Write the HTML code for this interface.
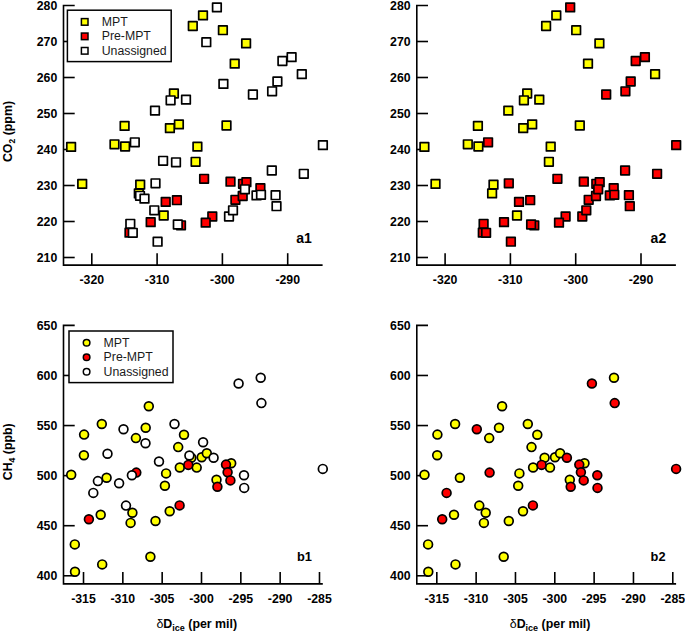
<!DOCTYPE html>
<html><head><meta charset="utf-8"><style>
html,body{margin:0;padding:0;background:#fff;}
svg{display:block;}
text{font-family:"Liberation Sans",sans-serif;}
</style></head><body>
<svg width="685" height="633" viewBox="0 0 685 633">
<rect width="685" height="633" fill="#fff"/>
<g stroke="#000" stroke-width="1.6" fill="none">
<path d="M63.5 5.5H74.7M63.5 4.7V265.9M62.7 265.1H322.6"/>
<path d="M63.5 257.50H74.7"/>
<path d="M63.5 221.50H74.7"/>
<path d="M63.5 185.50H74.7"/>
<path d="M63.5 149.50H74.7"/>
<path d="M63.5 113.50H74.7"/>
<path d="M63.5 77.50H74.7"/>
<path d="M63.5 41.50H74.7"/>
<path d="M91.80 265.1V253.2"/>
<path d="M157.10 265.1V253.2"/>
<path d="M222.40 265.1V253.2"/>
<path d="M287.70 265.1V253.2"/>
<path d="M416.8 5.5H428.0M416.8 4.7V265.9M416.0 265.1H675.9000000000001"/>
<path d="M416.8 257.50H428.0"/>
<path d="M416.8 221.50H428.0"/>
<path d="M416.8 185.50H428.0"/>
<path d="M416.8 149.50H428.0"/>
<path d="M416.8 113.50H428.0"/>
<path d="M416.8 77.50H428.0"/>
<path d="M416.8 41.50H428.0"/>
<path d="M445.10 265.1V253.2"/>
<path d="M510.40 265.1V253.2"/>
<path d="M575.70 265.1V253.2"/>
<path d="M641.00 265.1V253.2"/>
<path d="M63.5 325.40H74.7M63.5 324.60V584.7M62.7 583.9H322.8"/>
<path d="M63.5 575.77H74.7"/>
<path d="M63.5 525.70H74.7"/>
<path d="M63.5 475.62H74.7"/>
<path d="M63.5 425.55H74.7"/>
<path d="M63.5 375.47H74.7"/>
<path d="M83.51 583.9V572.0"/>
<path d="M122.84 583.9V572.0"/>
<path d="M162.17 583.9V572.0"/>
<path d="M201.50 583.9V572.0"/>
<path d="M240.83 583.9V572.0"/>
<path d="M280.16 583.9V572.0"/>
<path d="M319.49 583.9V572.0"/>
<path d="M416.8 325.40H428.0M416.8 324.60V584.7M416.0 583.9H676.1"/>
<path d="M416.8 575.77H428.0"/>
<path d="M416.8 525.70H428.0"/>
<path d="M416.8 475.62H428.0"/>
<path d="M416.8 425.55H428.0"/>
<path d="M416.8 375.47H428.0"/>
<path d="M436.81 583.9V572.0"/>
<path d="M476.14 583.9V572.0"/>
<path d="M515.47 583.9V572.0"/>
<path d="M554.80 583.9V572.0"/>
<path d="M594.13 583.9V572.0"/>
<path d="M633.46 583.9V572.0"/>
<path d="M672.79 583.9V572.0"/>
</g>
<g font-weight="bold" font-size="12.3" fill="#000">
<text x="57.3" y="261.80" text-anchor="end">210</text>
<text x="57.3" y="225.80" text-anchor="end">220</text>
<text x="57.3" y="189.80" text-anchor="end">230</text>
<text x="57.3" y="153.80" text-anchor="end">240</text>
<text x="57.3" y="117.80" text-anchor="end">250</text>
<text x="57.3" y="81.80" text-anchor="end">260</text>
<text x="57.3" y="45.80" text-anchor="end">270</text>
<text x="57.3" y="9.80" text-anchor="end">280</text>
<text x="91.80" y="284.2" text-anchor="middle">-320</text>
<text x="157.10" y="284.2" text-anchor="middle">-310</text>
<text x="222.40" y="284.2" text-anchor="middle">-300</text>
<text x="287.70" y="284.2" text-anchor="middle">-290</text>
<text x="410.6" y="261.80" text-anchor="end">210</text>
<text x="410.6" y="225.80" text-anchor="end">220</text>
<text x="410.6" y="189.80" text-anchor="end">230</text>
<text x="410.6" y="153.80" text-anchor="end">240</text>
<text x="410.6" y="117.80" text-anchor="end">250</text>
<text x="410.6" y="81.80" text-anchor="end">260</text>
<text x="410.6" y="45.80" text-anchor="end">270</text>
<text x="410.6" y="9.80" text-anchor="end">280</text>
<text x="445.10" y="284.2" text-anchor="middle">-320</text>
<text x="510.40" y="284.2" text-anchor="middle">-310</text>
<text x="575.70" y="284.2" text-anchor="middle">-300</text>
<text x="641.00" y="284.2" text-anchor="middle">-290</text>
<text x="57.3" y="580.07" text-anchor="end">400</text>
<text x="57.3" y="530.00" text-anchor="end">450</text>
<text x="57.3" y="479.93" text-anchor="end">500</text>
<text x="57.3" y="429.85" text-anchor="end">550</text>
<text x="57.3" y="379.77" text-anchor="end">600</text>
<text x="57.3" y="329.70" text-anchor="end">650</text>
<text x="83.51" y="602.8" text-anchor="middle">-315</text>
<text x="122.84" y="602.8" text-anchor="middle">-310</text>
<text x="162.17" y="602.8" text-anchor="middle">-305</text>
<text x="201.50" y="602.8" text-anchor="middle">-300</text>
<text x="240.83" y="602.8" text-anchor="middle">-295</text>
<text x="280.16" y="602.8" text-anchor="middle">-290</text>
<text x="319.49" y="602.8" text-anchor="middle">-285</text>
<text x="410.6" y="580.07" text-anchor="end">400</text>
<text x="410.6" y="530.00" text-anchor="end">450</text>
<text x="410.6" y="479.93" text-anchor="end">500</text>
<text x="410.6" y="429.85" text-anchor="end">550</text>
<text x="410.6" y="379.77" text-anchor="end">600</text>
<text x="410.6" y="329.70" text-anchor="end">650</text>
<text x="436.81" y="602.8" text-anchor="middle">-315</text>
<text x="476.14" y="602.8" text-anchor="middle">-310</text>
<text x="515.47" y="602.8" text-anchor="middle">-305</text>
<text x="554.80" y="602.8" text-anchor="middle">-300</text>
<text x="594.13" y="602.8" text-anchor="middle">-295</text>
<text x="633.46" y="602.8" text-anchor="middle">-290</text>
<text x="672.79" y="602.8" text-anchor="middle">-285</text>
</g>
<g font-weight="bold" font-size="14" fill="#000">
<text x="296.2" y="242.5">a1</text>
<text x="650.6" y="242.5">a2</text>
<text x="297.0" y="561.4" font-size="12.8">b1</text>
<text x="650.6" y="561.4" font-size="12.8">b2</text>
</g>
<g font-weight="bold" font-size="12" fill="#000">
<text transform="translate(11.8,131.5) rotate(-90)" text-anchor="middle" font-size="12.4">CO<tspan font-size="8.5" dy="3">2</tspan><tspan dy="-3"> (ppm)</tspan></text>
<text transform="translate(11.8,451.8) rotate(-90)" text-anchor="middle" font-size="12.4">CH<tspan font-size="8.5" dy="3">4</tspan><tspan dy="-3"> (ppb)</tspan></text>
<text x="196.8" y="628.2" text-anchor="middle" font-size="12.4"><tspan font-weight="normal">δ</tspan>D<tspan font-size="9" dy="3">ice</tspan><tspan dy="-3"> (per mil)</tspan></text>
<text x="550.1" y="628.2" text-anchor="middle" font-size="12.4"><tspan font-weight="normal">δ</tspan>D<tspan font-size="9" dy="3">ice</tspan><tspan dy="-3"> (per mil)</tspan></text>
</g>
<g stroke="#000" stroke-width="1.7" stroke-linejoin="round">
<rect x="66.80" y="142.60" width="8.6" height="8.6" fill="#ffff00"/>
<rect x="77.90" y="179.60" width="8.6" height="8.6" fill="#ffff00"/>
<rect x="110.20" y="140.00" width="8.6" height="8.6" fill="#ffff00"/>
<rect x="120.80" y="142.20" width="8.6" height="8.6" fill="#ffff00"/>
<rect x="120.30" y="121.60" width="8.6" height="8.6" fill="#ffff00"/>
<rect x="135.90" y="180.30" width="8.6" height="8.6" fill="#ffff00"/>
<rect x="134.50" y="189.10" width="8.6" height="8.6" fill="#ffff00"/>
<rect x="159.40" y="211.20" width="8.6" height="8.6" fill="#ffff00"/>
<rect x="169.60" y="89.20" width="8.6" height="8.6" fill="#ffff00"/>
<rect x="174.60" y="120.10" width="8.6" height="8.6" fill="#ffff00"/>
<rect x="165.60" y="123.80" width="8.6" height="8.6" fill="#ffff00"/>
<rect x="193.10" y="142.30" width="8.6" height="8.6" fill="#ffff00"/>
<rect x="191.30" y="157.50" width="8.6" height="8.6" fill="#ffff00"/>
<rect x="222.20" y="121.20" width="8.6" height="8.6" fill="#ffff00"/>
<rect x="198.70" y="11.10" width="8.6" height="8.6" fill="#ffff00"/>
<rect x="188.50" y="21.70" width="8.6" height="8.6" fill="#ffff00"/>
<rect x="218.60" y="25.90" width="8.6" height="8.6" fill="#ffff00"/>
<rect x="241.80" y="39.10" width="8.6" height="8.6" fill="#ffff00"/>
<rect x="230.40" y="59.30" width="8.6" height="8.6" fill="#ffff00"/>
<rect x="125.20" y="228.30" width="8.6" height="8.6" fill="#ff0000"/>
<rect x="146.40" y="217.80" width="8.6" height="8.6" fill="#ff0000"/>
<rect x="161.40" y="197.60" width="8.6" height="8.6" fill="#ff0000"/>
<rect x="172.60" y="195.90" width="8.6" height="8.6" fill="#ff0000"/>
<rect x="176.70" y="221.00" width="8.6" height="8.6" fill="#ff0000"/>
<rect x="199.80" y="174.50" width="8.6" height="8.6" fill="#ff0000"/>
<rect x="226.20" y="177.40" width="8.6" height="8.6" fill="#ff0000"/>
<rect x="231.10" y="195.50" width="8.6" height="8.6" fill="#ff0000"/>
<rect x="208.00" y="212.20" width="8.6" height="8.6" fill="#ff0000"/>
<rect x="201.40" y="218.30" width="8.6" height="8.6" fill="#ff0000"/>
<rect x="238.70" y="179.50" width="8.6" height="8.6" fill="#ff0000"/>
<rect x="242.10" y="177.80" width="8.6" height="8.6" fill="#ff0000"/>
<rect x="238.40" y="191.70" width="8.6" height="8.6" fill="#ff0000"/>
<rect x="256.10" y="183.90" width="8.6" height="8.6" fill="#ff0000"/>
<rect x="212.60" y="3.10" width="8.6" height="8.6" fill="#ffffff"/>
<rect x="202.00" y="37.90" width="8.6" height="8.6" fill="#ffffff"/>
<rect x="219.10" y="79.60" width="8.6" height="8.6" fill="#ffffff"/>
<rect x="287.30" y="52.80" width="8.6" height="8.6" fill="#ffffff"/>
<rect x="278.10" y="56.70" width="8.6" height="8.6" fill="#ffffff"/>
<rect x="297.50" y="69.80" width="8.6" height="8.6" fill="#ffffff"/>
<rect x="273.10" y="77.20" width="8.6" height="8.6" fill="#ffffff"/>
<rect x="267.80" y="87.00" width="8.6" height="8.6" fill="#ffffff"/>
<rect x="248.60" y="90.20" width="8.6" height="8.6" fill="#ffffff"/>
<rect x="166.30" y="96.00" width="8.6" height="8.6" fill="#ffffff"/>
<rect x="181.70" y="95.30" width="8.6" height="8.6" fill="#ffffff"/>
<rect x="150.70" y="106.30" width="8.6" height="8.6" fill="#ffffff"/>
<rect x="130.50" y="138.00" width="8.6" height="8.6" fill="#ffffff"/>
<rect x="158.80" y="156.50" width="8.6" height="8.6" fill="#ffffff"/>
<rect x="171.70" y="158.00" width="8.6" height="8.6" fill="#ffffff"/>
<rect x="151.20" y="179.00" width="8.6" height="8.6" fill="#ffffff"/>
<rect x="135.70" y="191.50" width="8.6" height="8.6" fill="#ffffff"/>
<rect x="140.20" y="194.30" width="8.6" height="8.6" fill="#ffffff"/>
<rect x="150.00" y="206.00" width="8.6" height="8.6" fill="#ffffff"/>
<rect x="126.00" y="219.50" width="8.6" height="8.6" fill="#ffffff"/>
<rect x="128.50" y="228.50" width="8.6" height="8.6" fill="#ffffff"/>
<rect x="153.30" y="237.40" width="8.6" height="8.6" fill="#ffffff"/>
<rect x="173.50" y="220.20" width="8.6" height="8.6" fill="#ffffff"/>
<rect x="224.70" y="212.20" width="8.6" height="8.6" fill="#ffffff"/>
<rect x="228.70" y="206.00" width="8.6" height="8.6" fill="#ffffff"/>
<rect x="240.60" y="185.00" width="8.6" height="8.6" fill="#ffffff"/>
<rect x="252.20" y="191.10" width="8.6" height="8.6" fill="#ffffff"/>
<rect x="256.70" y="190.50" width="8.6" height="8.6" fill="#ffffff"/>
<rect x="271.30" y="190.90" width="8.6" height="8.6" fill="#ffffff"/>
<rect x="272.20" y="201.90" width="8.6" height="8.6" fill="#ffffff"/>
<rect x="267.50" y="166.20" width="8.6" height="8.6" fill="#ffffff"/>
<rect x="299.50" y="169.50" width="8.6" height="8.6" fill="#ffffff"/>
<rect x="318.60" y="140.80" width="8.6" height="8.6" fill="#ffffff"/>
<rect x="420.10" y="142.60" width="8.6" height="8.6" fill="#ffff00"/>
<rect x="431.20" y="179.60" width="8.6" height="8.6" fill="#ffff00"/>
<rect x="463.50" y="140.00" width="8.6" height="8.6" fill="#ffff00"/>
<rect x="474.10" y="142.20" width="8.6" height="8.6" fill="#ffff00"/>
<rect x="473.60" y="121.60" width="8.6" height="8.6" fill="#ffff00"/>
<rect x="489.20" y="180.30" width="8.6" height="8.6" fill="#ffff00"/>
<rect x="487.80" y="189.10" width="8.6" height="8.6" fill="#ffff00"/>
<rect x="512.70" y="211.20" width="8.6" height="8.6" fill="#ffff00"/>
<rect x="522.90" y="89.20" width="8.6" height="8.6" fill="#ffff00"/>
<rect x="527.90" y="120.10" width="8.6" height="8.6" fill="#ffff00"/>
<rect x="518.90" y="123.80" width="8.6" height="8.6" fill="#ffff00"/>
<rect x="546.40" y="142.30" width="8.6" height="8.6" fill="#ffff00"/>
<rect x="544.60" y="157.50" width="8.6" height="8.6" fill="#ffff00"/>
<rect x="575.50" y="121.20" width="8.6" height="8.6" fill="#ffff00"/>
<rect x="552.00" y="11.10" width="8.6" height="8.6" fill="#ffff00"/>
<rect x="541.80" y="21.70" width="8.6" height="8.6" fill="#ffff00"/>
<rect x="571.90" y="25.90" width="8.6" height="8.6" fill="#ffff00"/>
<rect x="595.10" y="39.10" width="8.6" height="8.6" fill="#ffff00"/>
<rect x="583.70" y="59.30" width="8.6" height="8.6" fill="#ffff00"/>
<rect x="650.80" y="69.80" width="8.6" height="8.6" fill="#ffff00"/>
<rect x="519.60" y="96.00" width="8.6" height="8.6" fill="#ffff00"/>
<rect x="535.00" y="95.30" width="8.6" height="8.6" fill="#ffff00"/>
<rect x="504.00" y="106.30" width="8.6" height="8.6" fill="#ffff00"/>
<rect x="478.50" y="228.30" width="8.6" height="8.6" fill="#ff0000"/>
<rect x="499.70" y="217.80" width="8.6" height="8.6" fill="#ff0000"/>
<rect x="514.70" y="197.60" width="8.6" height="8.6" fill="#ff0000"/>
<rect x="525.90" y="195.90" width="8.6" height="8.6" fill="#ff0000"/>
<rect x="530.00" y="221.00" width="8.6" height="8.6" fill="#ff0000"/>
<rect x="553.10" y="174.50" width="8.6" height="8.6" fill="#ff0000"/>
<rect x="579.50" y="177.40" width="8.6" height="8.6" fill="#ff0000"/>
<rect x="584.40" y="195.50" width="8.6" height="8.6" fill="#ff0000"/>
<rect x="561.30" y="212.20" width="8.6" height="8.6" fill="#ff0000"/>
<rect x="554.70" y="218.30" width="8.6" height="8.6" fill="#ff0000"/>
<rect x="592.00" y="179.50" width="8.6" height="8.6" fill="#ff0000"/>
<rect x="595.40" y="177.80" width="8.6" height="8.6" fill="#ff0000"/>
<rect x="591.70" y="191.70" width="8.6" height="8.6" fill="#ff0000"/>
<rect x="609.40" y="183.90" width="8.6" height="8.6" fill="#ff0000"/>
<rect x="565.90" y="3.10" width="8.6" height="8.6" fill="#ff0000"/>
<rect x="640.60" y="52.80" width="8.6" height="8.6" fill="#ff0000"/>
<rect x="631.40" y="56.70" width="8.6" height="8.6" fill="#ff0000"/>
<rect x="626.40" y="77.20" width="8.6" height="8.6" fill="#ff0000"/>
<rect x="621.10" y="87.00" width="8.6" height="8.6" fill="#ff0000"/>
<rect x="601.90" y="90.20" width="8.6" height="8.6" fill="#ff0000"/>
<rect x="483.80" y="138.00" width="8.6" height="8.6" fill="#ff0000"/>
<rect x="504.50" y="179.00" width="8.6" height="8.6" fill="#ff0000"/>
<rect x="479.30" y="219.50" width="8.6" height="8.6" fill="#ff0000"/>
<rect x="481.80" y="228.50" width="8.6" height="8.6" fill="#ff0000"/>
<rect x="506.60" y="237.40" width="8.6" height="8.6" fill="#ff0000"/>
<rect x="526.80" y="220.20" width="8.6" height="8.6" fill="#ff0000"/>
<rect x="578.00" y="212.20" width="8.6" height="8.6" fill="#ff0000"/>
<rect x="582.00" y="206.00" width="8.6" height="8.6" fill="#ff0000"/>
<rect x="593.90" y="185.00" width="8.6" height="8.6" fill="#ff0000"/>
<rect x="605.50" y="191.10" width="8.6" height="8.6" fill="#ff0000"/>
<rect x="610.00" y="190.50" width="8.6" height="8.6" fill="#ff0000"/>
<rect x="624.60" y="190.90" width="8.6" height="8.6" fill="#ff0000"/>
<rect x="625.50" y="201.90" width="8.6" height="8.6" fill="#ff0000"/>
<rect x="620.80" y="166.20" width="8.6" height="8.6" fill="#ff0000"/>
<rect x="652.80" y="169.50" width="8.6" height="8.6" fill="#ff0000"/>
<rect x="671.90" y="140.80" width="8.6" height="8.6" fill="#ff0000"/>
<circle cx="101.80" cy="424.00" r="4.4" fill="#ffff00"/>
<circle cx="84.10" cy="434.60" r="4.4" fill="#ffff00"/>
<circle cx="135.90" cy="438.10" r="4.4" fill="#ffff00"/>
<circle cx="145.70" cy="427.80" r="4.4" fill="#ffff00"/>
<circle cx="83.90" cy="455.30" r="4.4" fill="#ffff00"/>
<circle cx="71.20" cy="474.70" r="4.4" fill="#ffff00"/>
<circle cx="106.60" cy="477.70" r="4.4" fill="#ffff00"/>
<circle cx="132.40" cy="512.80" r="4.4" fill="#ffff00"/>
<circle cx="130.60" cy="522.90" r="4.4" fill="#ffff00"/>
<circle cx="100.70" cy="514.70" r="4.4" fill="#ffff00"/>
<circle cx="74.80" cy="544.40" r="4.4" fill="#ffff00"/>
<circle cx="102.20" cy="564.40" r="4.4" fill="#ffff00"/>
<circle cx="75.00" cy="571.70" r="4.4" fill="#ffff00"/>
<circle cx="148.80" cy="406.20" r="4.4" fill="#ffff00"/>
<circle cx="184.00" cy="434.80" r="4.4" fill="#ffff00"/>
<circle cx="178.20" cy="447.10" r="4.4" fill="#ffff00"/>
<circle cx="191.30" cy="457.70" r="4.4" fill="#ffff00"/>
<circle cx="201.70" cy="457.30" r="4.4" fill="#ffff00"/>
<circle cx="206.80" cy="453.20" r="4.4" fill="#ffff00"/>
<circle cx="179.80" cy="467.50" r="4.4" fill="#ffff00"/>
<circle cx="196.70" cy="467.60" r="4.4" fill="#ffff00"/>
<circle cx="231.20" cy="463.20" r="4.4" fill="#ffff00"/>
<circle cx="216.50" cy="479.80" r="4.4" fill="#ffff00"/>
<circle cx="166.10" cy="473.40" r="4.4" fill="#ffff00"/>
<circle cx="164.90" cy="485.70" r="4.4" fill="#ffff00"/>
<circle cx="169.70" cy="511.20" r="4.4" fill="#ffff00"/>
<circle cx="155.50" cy="521.00" r="4.4" fill="#ffff00"/>
<circle cx="150.40" cy="556.80" r="4.4" fill="#ffff00"/>
<circle cx="136.30" cy="472.60" r="4.4" fill="#ff0000"/>
<circle cx="88.90" cy="519.20" r="4.4" fill="#ff0000"/>
<circle cx="188.30" cy="464.90" r="4.4" fill="#ff0000"/>
<circle cx="226.00" cy="464.60" r="4.4" fill="#ff0000"/>
<circle cx="227.60" cy="472.30" r="4.4" fill="#ff0000"/>
<circle cx="230.40" cy="480.40" r="4.4" fill="#ff0000"/>
<circle cx="217.40" cy="486.80" r="4.4" fill="#ff0000"/>
<circle cx="179.60" cy="505.40" r="4.4" fill="#ff0000"/>
<circle cx="123.50" cy="429.20" r="4.4" fill="#ffffff"/>
<circle cx="145.50" cy="443.20" r="4.4" fill="#ffffff"/>
<circle cx="107.50" cy="453.70" r="4.4" fill="#ffffff"/>
<circle cx="97.90" cy="481.10" r="4.4" fill="#ffffff"/>
<circle cx="119.10" cy="483.20" r="4.4" fill="#ffffff"/>
<circle cx="131.90" cy="475.30" r="4.4" fill="#ffffff"/>
<circle cx="93.30" cy="492.90" r="4.4" fill="#ffffff"/>
<circle cx="126.00" cy="505.60" r="4.4" fill="#ffffff"/>
<circle cx="174.50" cy="424.00" r="4.4" fill="#ffffff"/>
<circle cx="203.10" cy="442.30" r="4.4" fill="#ffffff"/>
<circle cx="189.40" cy="455.50" r="4.4" fill="#ffffff"/>
<circle cx="213.60" cy="457.80" r="4.4" fill="#ffffff"/>
<circle cx="159.00" cy="461.50" r="4.4" fill="#ffffff"/>
<circle cx="238.60" cy="383.50" r="4.4" fill="#ffffff"/>
<circle cx="260.70" cy="377.80" r="4.4" fill="#ffffff"/>
<circle cx="261.40" cy="403.10" r="4.4" fill="#ffffff"/>
<circle cx="244.00" cy="475.20" r="4.4" fill="#ffffff"/>
<circle cx="244.20" cy="487.90" r="4.4" fill="#ffffff"/>
<circle cx="322.80" cy="468.90" r="4.4" fill="#ffffff"/>
<circle cx="455.10" cy="424.00" r="4.4" fill="#ffff00"/>
<circle cx="437.40" cy="434.60" r="4.4" fill="#ffff00"/>
<circle cx="489.20" cy="438.10" r="4.4" fill="#ffff00"/>
<circle cx="499.00" cy="427.80" r="4.4" fill="#ffff00"/>
<circle cx="437.20" cy="455.30" r="4.4" fill="#ffff00"/>
<circle cx="424.50" cy="474.70" r="4.4" fill="#ffff00"/>
<circle cx="459.90" cy="477.70" r="4.4" fill="#ffff00"/>
<circle cx="485.70" cy="512.80" r="4.4" fill="#ffff00"/>
<circle cx="483.90" cy="522.90" r="4.4" fill="#ffff00"/>
<circle cx="454.00" cy="514.70" r="4.4" fill="#ffff00"/>
<circle cx="428.10" cy="544.40" r="4.4" fill="#ffff00"/>
<circle cx="455.50" cy="564.40" r="4.4" fill="#ffff00"/>
<circle cx="428.30" cy="571.70" r="4.4" fill="#ffff00"/>
<circle cx="502.10" cy="406.20" r="4.4" fill="#ffff00"/>
<circle cx="537.30" cy="434.80" r="4.4" fill="#ffff00"/>
<circle cx="531.50" cy="447.10" r="4.4" fill="#ffff00"/>
<circle cx="544.60" cy="457.70" r="4.4" fill="#ffff00"/>
<circle cx="555.00" cy="457.30" r="4.4" fill="#ffff00"/>
<circle cx="560.10" cy="453.20" r="4.4" fill="#ffff00"/>
<circle cx="533.10" cy="467.50" r="4.4" fill="#ffff00"/>
<circle cx="550.00" cy="467.60" r="4.4" fill="#ffff00"/>
<circle cx="584.50" cy="463.20" r="4.4" fill="#ffff00"/>
<circle cx="569.80" cy="479.80" r="4.4" fill="#ffff00"/>
<circle cx="519.40" cy="473.40" r="4.4" fill="#ffff00"/>
<circle cx="518.20" cy="485.70" r="4.4" fill="#ffff00"/>
<circle cx="523.00" cy="511.20" r="4.4" fill="#ffff00"/>
<circle cx="508.80" cy="521.00" r="4.4" fill="#ffff00"/>
<circle cx="503.70" cy="556.80" r="4.4" fill="#ffff00"/>
<circle cx="479.30" cy="505.60" r="4.4" fill="#ffff00"/>
<circle cx="527.80" cy="424.00" r="4.4" fill="#ffff00"/>
<circle cx="614.00" cy="377.80" r="4.4" fill="#ffff00"/>
<circle cx="489.60" cy="472.60" r="4.4" fill="#ff0000"/>
<circle cx="442.20" cy="519.20" r="4.4" fill="#ff0000"/>
<circle cx="541.60" cy="464.90" r="4.4" fill="#ff0000"/>
<circle cx="579.30" cy="464.60" r="4.4" fill="#ff0000"/>
<circle cx="580.90" cy="472.30" r="4.4" fill="#ff0000"/>
<circle cx="583.70" cy="480.40" r="4.4" fill="#ff0000"/>
<circle cx="570.70" cy="486.80" r="4.4" fill="#ff0000"/>
<circle cx="532.90" cy="505.40" r="4.4" fill="#ff0000"/>
<circle cx="476.80" cy="429.20" r="4.4" fill="#ff0000"/>
<circle cx="446.60" cy="492.90" r="4.4" fill="#ff0000"/>
<circle cx="566.90" cy="457.80" r="4.4" fill="#ff0000"/>
<circle cx="591.90" cy="383.50" r="4.4" fill="#ff0000"/>
<circle cx="614.70" cy="403.10" r="4.4" fill="#ff0000"/>
<circle cx="597.30" cy="475.20" r="4.4" fill="#ff0000"/>
<circle cx="597.50" cy="487.90" r="4.4" fill="#ff0000"/>
<circle cx="676.10" cy="468.90" r="4.4" fill="#ff0000"/>
</g>
<rect x="67.4" y="10.2" width="103.79999999999998" height="51.400000000000006" fill="#fff" stroke="#000" stroke-width="1.5"/>
<rect x="81.40" y="18.60" width="6.6" height="6.6" fill="#ffff00" stroke="#000" stroke-width="1.5"/>
<text x="101.7" y="26.00" font-size="12.3" fill="#1a1a1a">MPT</text>
<rect x="81.40" y="33.05" width="6.6" height="6.6" fill="#ff0000" stroke="#000" stroke-width="1.5"/>
<text x="101.7" y="40.45" font-size="12.3" fill="#1a1a1a">Pre-MPT</text>
<rect x="81.40" y="47.50" width="6.6" height="6.6" fill="#ffffff" stroke="#000" stroke-width="1.5"/>
<text x="101.7" y="54.90" font-size="12.3" fill="#1a1a1a">Unassigned</text>
<rect x="69.0" y="331.0" width="104.0" height="51.60000000000002" fill="#fff" stroke="#000" stroke-width="1.5"/>
<circle cx="86.60" cy="342.80" r="3.3" fill="#ffff00" stroke="#000" stroke-width="1.5"/>
<text x="103.6" y="346.90" font-size="12.3" fill="#1a1a1a">MPT</text>
<circle cx="86.60" cy="357.25" r="3.3" fill="#ff0000" stroke="#000" stroke-width="1.5"/>
<text x="103.6" y="361.35" font-size="12.3" fill="#1a1a1a">Pre-MPT</text>
<circle cx="86.60" cy="371.70" r="3.3" fill="#ffffff" stroke="#000" stroke-width="1.5"/>
<text x="103.6" y="375.80" font-size="12.3" fill="#1a1a1a">Unassigned</text>
</svg>
</body></html>
